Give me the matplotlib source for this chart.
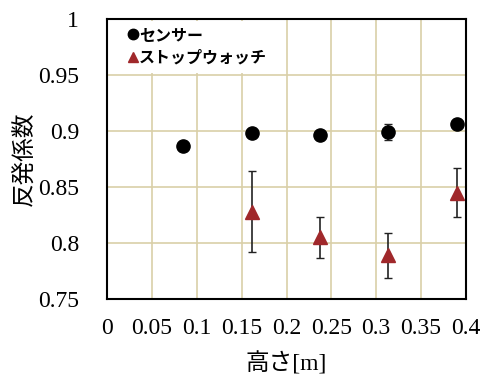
import matplotlib
matplotlib.use('Agg')
import matplotlib.pyplot as plt
from matplotlib.lines import Line2D
from matplotlib.patches import Rectangle

plt.rcParams['font.family'] = ['Liberation Serif', 'Noto Sans CJK JP']

# センサー
sensor_x = [0.085, 0.162, 0.237, 0.313, 0.390]
sensor_y = [0.887, 0.898, 0.896, 0.899, 0.906]
sensor_err = [0.0, 0.0, 0.0, 0.007, 0.0]

# ストップウォッチ
watch_x = [0.162, 0.237, 0.313, 0.390]
watch_y = [0.828, 0.805, 0.789, 0.845]
watch_err = [0.036, 0.018, 0.020, 0.022]

xticks = [0, 0.05, 0.1, 0.15, 0.2, 0.25, 0.3, 0.35, 0.4]
xtick_labels = ['0', '0.05', '0.1', '0.15', '0.2', '0.25', '0.3', '0.35', '0.4']
yticks = [0.75, 0.8, 0.85, 0.9, 0.95, 1.0]
ytick_labels = ['0.75', '0.8', '0.85', '0.9', '0.95', '1']

sensor_color = 'black'
watch_color = '#a0282b'

fig = plt.figure(figsize=(4.89, 3.74), dpi=100)
ax = fig.add_axes([107 / 489, 1 - 299 / 374, 359 / 489, 280 / 374])

ax.errorbar(sensor_x, sensor_y, yerr=sensor_err, fmt='o', color=sensor_color,
            ecolor='#222222', elinewidth=1.2, capsize=3, markersize=9.5,
            zorder=3)
ax.errorbar(watch_x, watch_y, yerr=watch_err, fmt='^', color=watch_color,
            ecolor='#222222', elinewidth=1.2, capsize=3, markersize=9.5,
            zorder=3)

ax.set_xlim(0, 0.4)
ax.set_ylim(0.75, 1.0)
ax.set_xticks(xticks)
ax.set_xticklabels(xtick_labels)
ax.set_yticks(yticks)
ax.set_yticklabels(ytick_labels)
ax.tick_params(length=0, labelsize=17)
ax.tick_params(axis='x', pad=14)
ax.tick_params(axis='y', pad=20)
ax.grid(True, color='#d9cfa8', linewidth=1.2, zorder=0)
ax.set_axisbelow(True)
for s in ax.spines.values():
    s.set_linewidth(1.5)
    s.set_zorder(5)

ax.set_xlabel('高さ[m]', fontsize=17, labelpad=9)
ax.set_ylabel('反発係数', fontsize=17, labelpad=1.5)

# white legend area covering the grid
ax.add_patch(Rectangle((0, 0.807), 0.497, 0.186, transform=ax.transAxes,
                       facecolor='white', edgecolor='none', zorder=2))

handles = [
    Line2D([], [], linestyle='none', marker='o', color=sensor_color, markersize=7.5),
    Line2D([], [], linestyle='none', marker='^', color=watch_color, markersize=7.5),
]
leg = ax.legend(handles, ['センサー', 'ストップウォッチ'], loc='upper left',
                bbox_to_anchor=(0.045, 0.99), frameon=False,
                handlelength=0.6, handletextpad=0.1,
                borderpad=0.3, labelspacing=0.45, borderaxespad=0.0,
                prop={'family': 'Noto Sans CJK JP', 'weight': 'bold', 'size': 11.5})
leg.set_zorder(4)

fig.savefig('out.png', dpi=100)
